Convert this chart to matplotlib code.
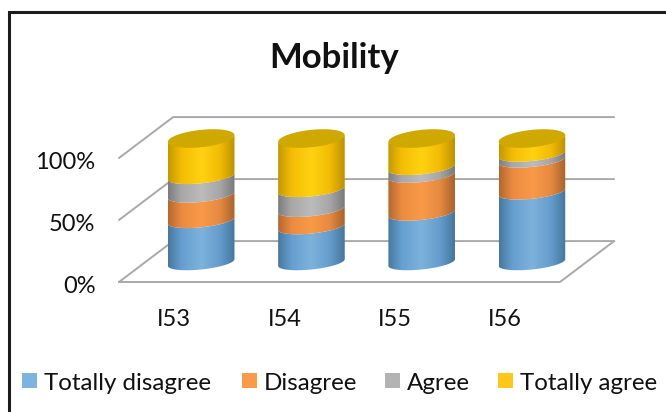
import numpy as np
import matplotlib
matplotlib.use("Agg")
import matplotlib.pyplot as plt
from matplotlib.colors import LinearSegmentedColormap
from matplotlib.patches import Polygon, Rectangle
from matplotlib.transforms import ScaledTranslation

categories = ["I53", "I54", "I55", "I56"]
series_names = ["Totally disagree", "Disagree", "Agree", "Totally agree"]
totally_disagree = [34, 29, 40, 57]
disagree = [20.5, 14, 30.5, 25.7]
agree = [15, 16, 6.3, 4.8]
totally_agree = [30.5, 41, 23.2, 12.5]
series_values = [totally_disagree, disagree, agree, totally_agree]
y_ticks = [0, 50, 100]
y_labels = ["0%", "50%", "100%"]

legend_colors = ["#7cb3df", "#fb9a47", "#b3b3b3", "#ffc71a"]
shades = [["#47789f", "#659fd0", "#7db2dc", "#659ccc", "#44779f"],
          ["#b4682f", "#ea8b41", "#fa9a48", "#e58a41", "#a9622c"],
          ["#7d7d7d", "#a8a8a8", "#bcbcbc", "#a6a6a6", "#7a7a7a"],
          ["#c49800", "#f4bd05", "#ffd211", "#f2bb05", "#bd9200"]]
top_color = "#cfa800"
grid_color = "#a9a9a9"
font = "Lato"

W, H = 666, 412
fig = plt.figure(figsize=(W / 100, H / 100), dpi=100, facecolor="white")
# front plane of the 3-D box
L, R, B, T = 119, 560, 282, 158
ax = fig.add_axes([L / W, 1 - B / H, (R - L) / W, (B - T) / H])
ax.patch.set_visible(False)
for s in ax.spines.values():
    s.set_visible(False)
ax.set_xticks(range(4), categories)
ax.set_yticks(y_ticks, y_labels)
ax.tick_params(length=0, labelsize=17)
ax.tick_params(axis="y", pad=17)
ax.tick_params(axis="x", pad=19.5)
shift = ScaledTranslation(0, -2 / 72, fig.dpi_scale_trans)
for t in ax.get_yticklabels():
    t.set_transform(t.get_transform() + shift)
for t in ax.get_xticklabels() + ax.get_yticklabels():
    t.set_fontfamily(font)
    t.set_color("#111111")

dx, dy = 54 / 110, 33.0  # depth of the box in data units
half = 0.302             # cylinder half width
ry = 5.6                 # ellipse minor half-axis of the rings, percent units
ry_cap = 7.0             # ellipse minor half-axis of the top cap
tilt = 2.7               # rise across half-width in percent

# walls / gridlines
for v in y_ticks:
    ax.plot([-0.5, -0.5 + dx, 3.5 + dx], [v, v + dy, v + dy], color=grid_color, lw=1.4,
            clip_on=False, zorder=1, solid_capstyle="round")
ax.plot([-0.5, 3.5, 3.5 + dx], [0, 0, dy], color=grid_color, lw=1.4, clip_on=False, zorder=1)

th = np.linspace(0, 2 * np.pi, 121)
for i in range(len(categories)):
    cx = i + dx / 2
    base = dy / 2 - 0.8
    xs = np.cos(th)
    ex = cx + half * xs
    cum = 0
    for j, vals in enumerate(series_values):
        lo, hi = base + cum, base + cum + vals[i]
        cum += vals[i]
        t2 = np.linspace(np.pi, 2 * np.pi, 60)
        ux = np.cos(t2)
        # y axis points up: the front of each ring is the lower half of the ellipse
        low = -ry * np.abs(np.sin(t2)) + tilt * ux
        px = np.r_[cx + half * ux, (cx + half * ux)[::-1]]
        py = np.r_[lo + low, (hi + low)[::-1]]
        poly = Polygon(np.c_[px, py], closed=True, transform=ax.transData, fc="none", ec="none")
        ax.add_patch(poly)
        cmap = LinearSegmentedColormap.from_list("c", list(zip([0, .2, .5, .78, 1], shades[j])))
        im = ax.imshow(np.linspace(0, 1, 128)[None, :], cmap=cmap, aspect="auto",
                       extent=(cx - half, cx + half, lo - 20, hi + 20), zorder=3 + j)
        im.set_clip_box(fig.bbox)
        im.set_clip_path(poly)
    ax.fill(ex, base + cum + ry_cap * np.sin(th) + tilt * xs, color=top_color, lw=0,
            zorder=8, clip_on=False)
ax.set_xlim(-0.5, 3.5)
ax.set_ylim(0, 100)

fig.text(334 / W, 1 - 58.5 / H, "Mobility", ha="center", va="center", fontsize=25,
         fontweight="bold", fontfamily=font, color="#111111")

# legend
starts = [22, 242, 385, 498]
for name, c, x0 in zip(series_names, legend_colors, starts):
    fig.patches.append(Rectangle((x0 / W, 1 - 388 / H), 15 / W, 15 / H, transform=fig.transFigure,
                                 fc=c, ec="none", figure=fig))
    fig.text((x0 + 22) / W, 1 - 383.5 / H, name, ha="left", va="center", fontsize=17.4,
             fontfamily=font, color="#111111")

# chart frame: only top and left edges are inside the crop
fig.add_artist(plt.Line2D([8.5 / W, 8.5 / W, 1], [0, 1 - 11.5 / H, 1 - 11.5 / H], transform=fig.transFigure,
                          color="#1c1c1c", lw=2.2, solid_joinstyle="miter"))
fig.savefig("out.png", dpi=100, facecolor="white")
